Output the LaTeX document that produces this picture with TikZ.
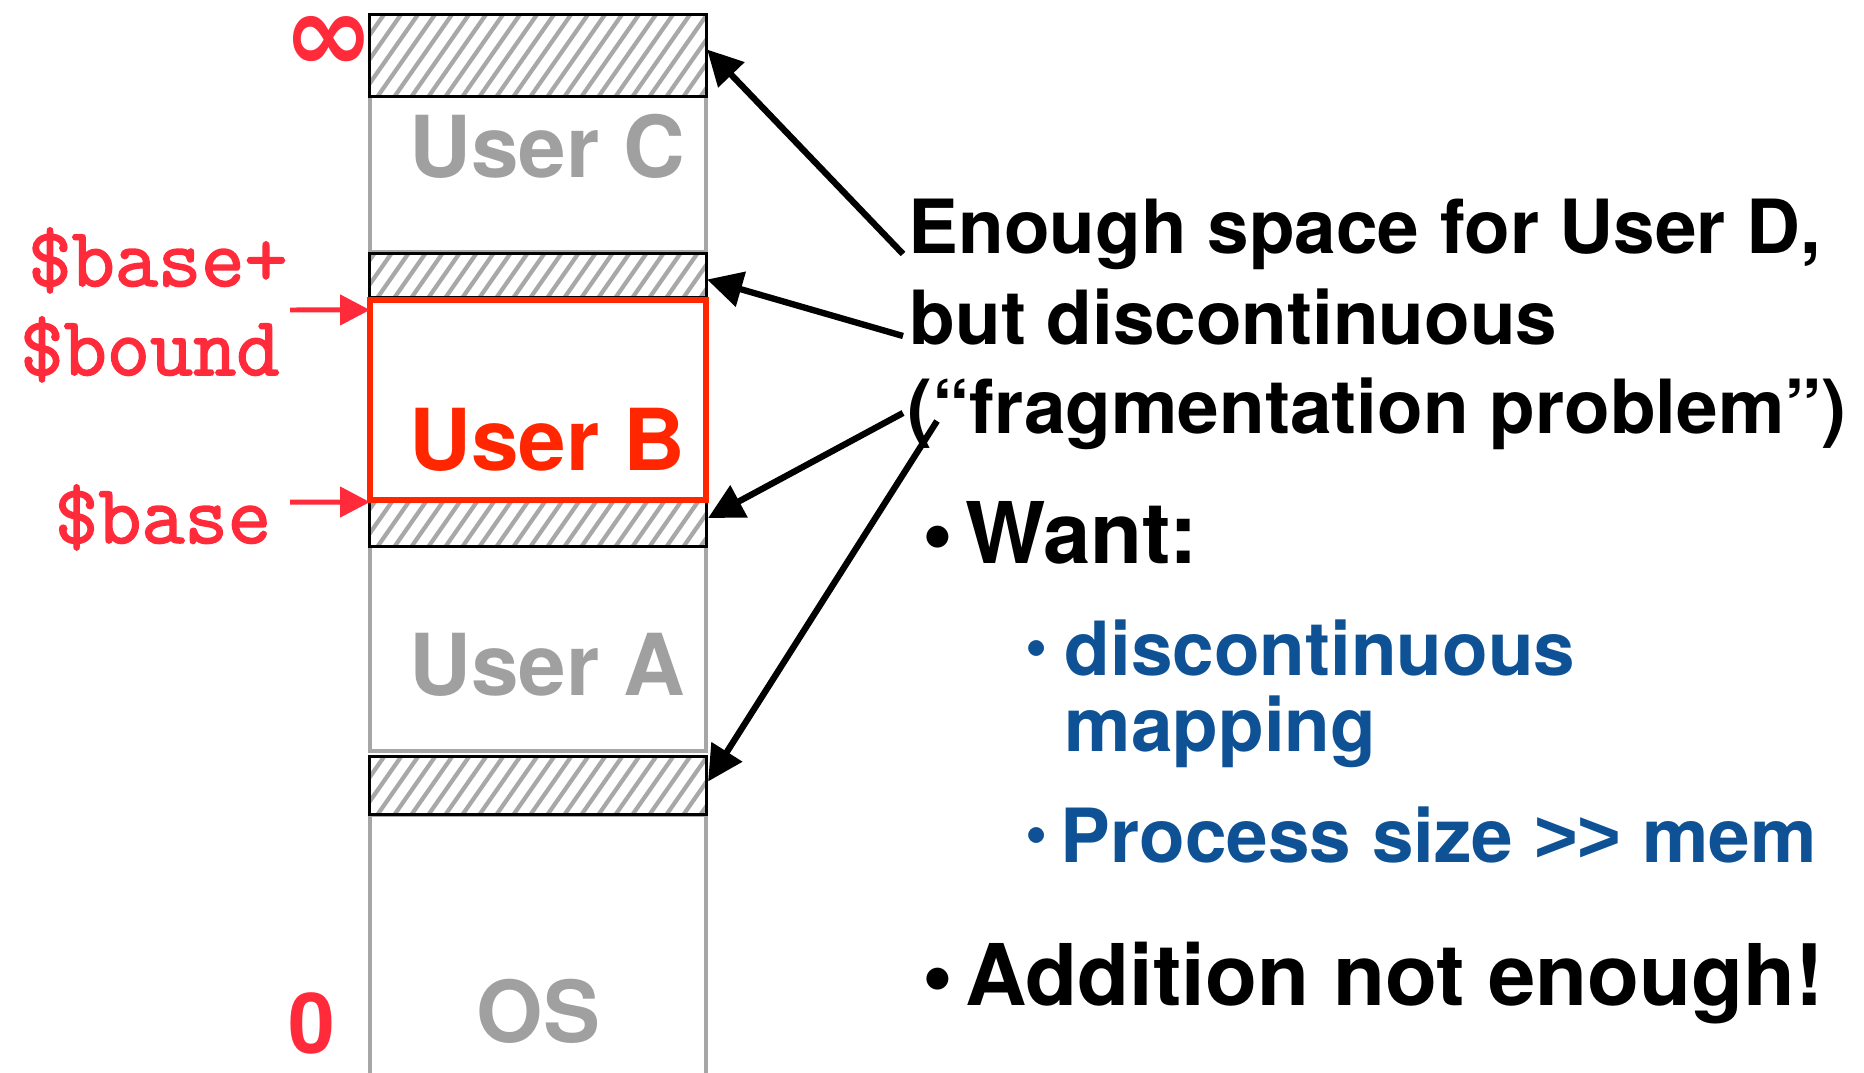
\documentclass[tikz,border=0pt]{standalone}
\usepackage{fontspec}
\setmainfont{TeX Gyre Heros}
\newfontfamily\codefont{Latin Modern Mono}[FakeBold=2]
\newfontfamily\symfont{DejaVu Sans}
\newfontfamily\altsans{Liberation Sans}
\usetikzlibrary{arrows.meta,calc}

\definecolor{boxgray}{RGB}{166,166,166}
\definecolor{labelgray}{RGB}{160,160,160}
\definecolor{userred}{RGB}{255,38,0}
\definecolor{markred}{RGB}{255,42,58}
\definecolor{subblue}{RGB}{14,82,149}
\definecolor{hatchgray}{RGB}{168,168,168}

% font size in pt, leading equal to size
\newcommand\fsz[1]{\fontsize{#1}{#1}\selectfont}

\begin{document}
\begin{tikzpicture}[x=0.01cm, y=-0.01cm,
  graybox/.style={draw=boxgray, line width=1.4pt},
  hatchbox/.style={rectangle, draw=black, line width=0.85pt, fill=white,
    inner sep=0pt, outer sep=0pt, minimum width=3.36cm,
    path picture={
      \foreach \k in {-12,...,22}{
        \draw[hatchgray, line width=1.2pt]
          ($(path picture bounding box.south west)+(\k*17,60)$) -- ++(168,-240);
      }}},
  redbox/.style={rectangle, draw=userred, line width=1.7pt,
    inner sep=0pt, outer sep=0pt, minimum width=3.36cm},
  cell/.style={anchor=base west, inner sep=0pt, text=labelgray,
    font=\fsz{24.3}\bfseries},
  code/.style={anchor=base, inner sep=0pt, text=markred,
    font=\fsz{23.85}\codefont},
  bound/.style={anchor=base west, inner sep=0pt, text=markred,
    font=\fsz{23.9}\bfseries},
  note/.style={anchor=base west, inner sep=0pt, font=\fsz{21.25}\bfseries},
  itemone/.style={anchor=base west, inner sep=0pt, font=\fsz{24.2}\bfseries},
  bulone/.style={anchor=base, inner sep=0pt, font=\fsz{25}\bfseries},
  itemtwo/.style={anchor=base west, inner sep=0pt, text=subblue,
    font=\fsz{21.25}\bfseries},
  bultwo/.style={anchor=base, inner sep=0pt, text=subblue,
    font=\fsz{18}\bfseries},
  ptr/.style={-{Triangle[length=10pt,width=10pt]}, line width=1.8pt},
  redptr/.style={draw=markred, fill=markred,
    -{Triangle[length=8.5pt,width=8.5pt]}, line width=1.42pt}
]
\useasboundingbox (0,0) rectangle (1864,1073);

% memory column: process regions
\draw[graybox] (370,87) rectangle (706,252);
\draw[graybox] (370,546) rectangle (706,751);
\draw[graybox] (370,1073) -- (370,815) -- (706,815) -- (706,1073);

% free (hatched) holes
\node[hatchbox, minimum height=0.81cm] (h1) at (538,55.5) {};
\node[hatchbox, minimum height=0.43cm] (h2) at (538,275.5) {};
\node[hatchbox, minimum height=0.44cm] (h3) at (538,524) {};
\node[hatchbox, minimum height=0.57cm] (h4) at (538,785.5) {};

% relocated process
\node[redbox, minimum height=2cm] (ub) at (538,400) {};

% region labels
\node[cell] (lc) at (409,178) {User C};
\node[cell, text=userred] (lb) at (409,470) {User B};
\node[cell] (la) at (409,695) {User A};
\node[cell] (los) at (476,1042) {OS};

% address bounds
\node[anchor=base, inner sep=0pt, text=markred, font=\fsz{31}\symfont\bfseries]
  (inf) at (329,72) {∞};
\node[bound] (zero) at (288,1053) {0};
\node[code] (bb) at (158,286) {\$base+};
\node[code] (bd) at (150,375) {\$bound};
\node[code] (bs) at (163,543) {\$base};

\coordinate (rhi) at (290,310);
\coordinate (rlo) at (290,502);
\draw[redptr] (rhi) -- ($(ub.north west)+(0,10)$);
\draw[redptr] (rlo) -- ($(ub.south west)+(0,2)$);

% explanation
\node[note] (l1) at (908,254) {Enough space for User D,};
\node[note] (l2) at (909,344) {but discontinuous};
\node[note] (l3) at (907,433) {(“fragmentation problem”)};

\node[bulone] (b1) at (938,563) {\textbullet};
\node[itemone] (want) at (965,563) {Want:};
\node[bultwo] (b2) at (1037,667) {\textbullet};
\node[itemtwo] (dis) at (1064,675) {discontinuous};
\node[itemtwo] (map) at (1064,751) {mapping};
\node[bultwo] (b3) at (1037,854) {\textbullet};
\node[itemtwo] (proc) at (1060,862) {Process size {\altsans>{}>} mem};
\node[bulone] (b4) at (938,1005) {\textbullet};
\node[itemone] (add) at (965,1005) {Addition not enough!};

% pointers from the text to the holes
\coordinate (t1) at (903,254);
\coordinate (t2) at (903,336);
\coordinate (t3) at (903,413);
\coordinate (t4) at (937,421);
\draw[ptr] (t1) -- ($(h1.east)+(1,-6)$);
\draw[ptr] (t2) -- ($(h2.east)+(1,4)$);
\draw[ptr] (t3) -- ($(h3.east)+(2,-6)$);
\draw[ptr] (t4) -- ($(h4.east)+(2,-4)$);
\end{tikzpicture}
\end{document}
